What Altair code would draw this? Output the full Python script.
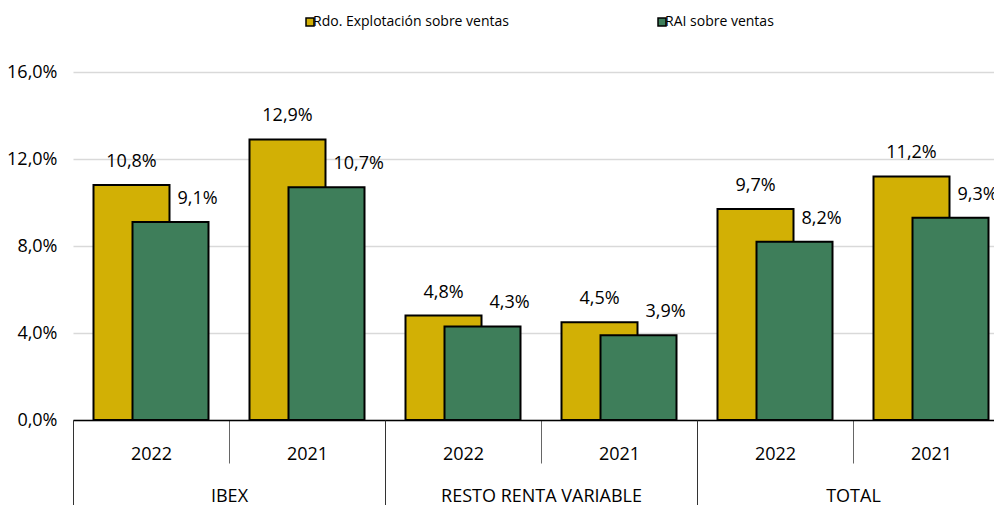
import altair as alt
import pandas as pd

# ---- data ----
grupos = ["IBEX", "IBEX", "RESTO RENTA VARIABLE", "RESTO RENTA VARIABLE", "TOTAL", "TOTAL"]
anios = ["2022", "2021", "2022", "2021", "2022", "2021"]
rdo_explotacion = [10.8, 12.9, 4.8, 4.5, 9.7, 11.2]
rai = [9.1, 10.7, 4.3, 3.9, 8.2, 9.3]
series = ["Rdo. Explotación sobre ventas", "RAI sobre ventas"]
grupo_orden = ["IBEX", "RESTO RENTA VARIABLE", "TOTAL"]
y_ticks = [0, 4, 8, 12, 16]

cats = [f"{g}|{a}" for g, a in zip(grupos, anios)]
rows = []
for c, v1, v2 in zip(cats, rdo_explotacion, rai):
    rows.append({"cat": c, "serie": series[0], "valor": v1})
    rows.append({"cat": c, "serie": series[1], "valor": v2})
df = pd.DataFrame(rows)
df_groups = pd.DataFrame({"grupo": grupo_orden})

YELLOW = "#D2B005"
GREEN = "#3E7E5A"
FONT = "Open Sans"
FS = 18
RANGE_W = 936

x_cat = alt.X(
    "cat:N",
    sort=cats,
    scale=alt.Scale(domain=cats, range=[0, RANGE_W], paddingInner=0, paddingOuter=0),
    axis=alt.Axis(
        title=None, orient="bottom",
        labelExpr="split(datum.value, '|')[1]", labelAngle=0,
        tickBand="extent", tickSize=43, tickColor="#666666", tickWidth=1,
        domainColor="black", domainWidth=1.5,
        labelPadding=-18, labelFontSize=FS, labelFont=FONT, labelColor="black",
        labelOverlap=False, labelLimit=400, grid=False,
    ),
)

y_enc = alt.Y(
    "valor:Q",
    scale=alt.Scale(domain=[0, 16], nice=False),
    axis=alt.Axis(
        title=None, values=y_ticks, domain=False, ticks=False,
        grid=True, gridColor="#d9d9d9", gridWidth=1.5,
        labelExpr="replace(format(datum.value, '.1f'), '.', ',') + '%'",
        labelPadding=16, labelFontSize=FS, labelFont=FONT, labelColor="black",
    ),
)

color = alt.Color(
    "serie:N",
    scale=alt.Scale(domain=series, range=[YELLOW, GREEN]),
    legend=alt.Legend(
        title=None, orient="none", legendX=230, legendY=-57,
        direction="horizontal", symbolType="square", symbolSize=64,
        symbolStrokeColor="black", symbolStrokeWidth=1.5,
        labelFont=FONT, labelFontSize=14, labelColor="black",
        labelOffset={"expr": "-4"}, columnPadding=146, labelLimit=400,
    ),
)

base = alt.Chart(df).transform_calculate(
    etiqueta="replace(format(datum.valor, '.1f'), '.', ',') + '%'"
)

bars_y = base.transform_filter(alt.datum.serie == series[0]).mark_bar(
    xOffset=-19.5, width=76, stroke="black", strokeWidth=2
).encode(x=x_cat, y=y_enc, color=color)

bars_g = base.transform_filter(alt.datum.serie == series[1]).mark_bar(
    xOffset=19.5, width=76, stroke="black", strokeWidth=2
).encode(x=x_cat, y=y_enc, color=color)

text_y = base.transform_filter(alt.datum.serie == series[0]).mark_text(
    dx=-19.5, dy=-23, baseline="middle", align="center",
    font=FONT, fontSize=FS, color="black"
).encode(x=x_cat, y=y_enc, text="etiqueta:N")

text_g = base.transform_filter(alt.datum.serie == series[1]).mark_text(
    dx=26.5, dy=-23, baseline="middle", align="left",
    font=FONT, fontSize=FS, color="black"
).encode(x=x_cat, y=y_enc, text="etiqueta:N")

inner = alt.layer(bars_y, bars_g, text_y, text_g)

grp = alt.Chart(df_groups).mark_text(opacity=0).encode(
    x=alt.X(
        "grupo:N",
        sort=grupo_orden,
        scale=alt.Scale(domain=grupo_orden, range=[0, RANGE_W], paddingInner=0, paddingOuter=0),
        axis=alt.Axis(
            title=None, orient="bottom", labelAngle=0,
            tickBand="extent", tickSize=85, tickColor="#333333", tickWidth=1,
            domain=False, grid=False,
            labelPadding=-18, labelFontSize=FS, labelFont=FONT, labelColor="black",
            labelOverlap=False, labelLimit=400,
        ),
    ),
    text="grupo:N",
)

chart = (
    alt.layer(inner, grp)
    .resolve_scale(x="independent")
    .properties(
        width=921, height=348,
        autosize=alt.AutoSizeParams(type="none"),
        padding={"left": 65, "top": 64, "right": 0, "bottom": 85},
    )
    .configure_view(stroke=None)
)

chart.save("out.html", embed_options={"renderer": "svg", "actions": False})
